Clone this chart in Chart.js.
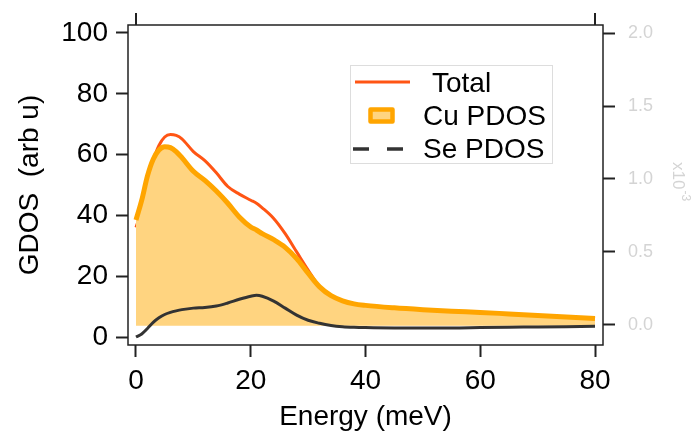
<!DOCTYPE html>
<html>
<head>
<meta charset="utf-8">
<script src="https://cdn.jsdelivr.net/npm/chart.js@4/dist/chart.umd.min.js"></script>
<style>
  html, body { margin: 0; padding: 0; background: #fff; }
  #wrap { width: 695px; height: 432px; }
</style>
</head>
<body>
<div id="wrap"><canvas id="c" width="695" height="432"></canvas></div>
<script>
const FONT = "'Liberation Sans', Arial, Helvetica, sans-serif";

// data
const energy = [0, 1, 2, 3, 4, 5, 6, 7, 8, 10, 12, 14, 16, 18, 20, 21, 22, 24, 26, 28, 30, 32, 34, 36, 38, 40, 45, 50, 55, 60, 65, 70, 75, 80];
const total  = [36, 42, 51, 58, 63, 65.8, 66.6, 66.3, 65.2, 61, 58, 54, 49.5, 47, 45, 44, 42.5, 39, 34, 28, 22, 16.5, 13.6, 11.9, 10.9, 10.4, 9.6, 9.0, 8.5, 8.1, 7.6, 7.1, 6.6, 6.1];
const cuPdos = [38.5, 45, 53, 58.5, 61.5, 62.6, 62.3, 61, 59, 54.5, 51.5, 48, 44, 39.5, 36.2, 35.2, 34, 32, 29.5, 25.8, 21, 16.5, 13.6, 11.9, 10.9, 10.4, 9.6, 9.0, 8.5, 8.1, 7.6, 7.1, 6.6, 6.1];
const sePdos = [0, 1, 2.8, 4.8, 6.3, 7.4, 8.1, 8.6, 9.0, 9.5, 9.7, 10.2, 11.2, 12.4, 13.4, 13.7, 13.4, 11.8, 9.5, 7.2, 5.5, 4.5, 3.8, 3.4, 3.2, 3.1, 3.0, 3.0, 3.0, 3.1, 3.2, 3.3, 3.4, 3.5];
const cuFloor = 3.7;

const xTicks     = [0, 20, 40, 60, 80];
const yTicks     = [0, 20, 40, 60, 80, 100];
const rightTicks = [0, 0.5, 1.0, 1.5, 2.0];
const labels     = ['Total', 'Cu PDOS', 'Se PDOS'];

const RED    = '#ff5514';
const ORANGE = '#ffa500';
const FILL   = '#ffd480';
const DARK   = '#333333';
const FAINT  = '#d4d4d4';

const pts = (ys) => energy.map((x, i) => ({ x, y: ys[i] }));
const fixTicks = (vals) => (scale) => { scale.ticks = vals.map((v) => ({ value: v })); };

const decor = {
  id: 'decor',
  afterDraw(chart) {
    const { ctx, chartArea: a, scales } = chart;
    ctx.save();
    // frame
    ctx.strokeStyle = '#222';
    ctx.lineWidth = 1.5;
    ctx.strokeRect(a.left, a.top, a.right - a.left, a.bottom - a.top);
    // top ticks at the ends only
    ctx.lineWidth = 2;
    [0, 80].forEach((v) => {
      const x = scales.x.getPixelForValue(v);
      ctx.beginPath(); ctx.moveTo(x, a.top - 12); ctx.lineTo(x, a.top); ctx.stroke();
    });

    // axis titles
    ctx.fillStyle = '#000';
    ctx.font = `28px ${FONT}`;
    ctx.textAlign = 'center';
    ctx.textBaseline = 'alphabetic';
    ctx.fillText('Energy (meV)', (a.left + a.right) / 2, 425);
    ctx.save();
    ctx.translate(38, (a.top + a.bottom) / 2);
    ctx.rotate(-Math.PI / 2);
    ctx.fillText('GDOS  (arb u)', 0, 0);
    ctx.restore();

    // right title
    ctx.save();
    ctx.fillStyle = FAINT;
    ctx.translate(673, 162);
    ctx.rotate(Math.PI / 2);
    ctx.textAlign = 'left';
    ctx.font = `17px ${FONT}`;
    ctx.fillText('x10', 0, 0);
    const w = ctx.measureText('x10').width;
    ctx.font = `12px ${FONT}`;
    ctx.fillText('-3', w + 1, -9);
    ctx.restore();

    // legend
    ctx.fillStyle = '#fff';
    ctx.fillRect(350, 65, 202, 98);
    ctx.strokeStyle = '#dddddd';
    ctx.lineWidth = 1;
    ctx.strokeRect(350.5, 65.5, 202, 98);

    ctx.strokeStyle = RED;
    ctx.lineWidth = 3;
    ctx.beginPath(); ctx.moveTo(355, 82); ctx.lineTo(410, 82); ctx.stroke();

    ctx.lineJoin = 'round';
    ctx.fillStyle = FILL;
    ctx.fillRect(370, 109, 23, 13);
    ctx.strokeStyle = ORANGE;
    ctx.lineWidth = 4.5;
    ctx.strokeRect(370.5, 109.5, 22, 12);

    ctx.strokeStyle = DARK;
    ctx.lineWidth = 3.5;
    ctx.setLineDash([16, 18]);
    ctx.beginPath(); ctx.moveTo(353, 149); ctx.lineTo(405, 149); ctx.stroke();
    ctx.setLineDash([]);

    ctx.fillStyle = '#000';
    ctx.font = `28px ${FONT}`;
    ctx.textAlign = 'left';
    ctx.fillText(labels[0], 432, 92);
    ctx.fillText(labels[1], 423, 125);
    ctx.fillText(labels[2], 423, 158);
    ctx.restore();
  },
};

const tickGrid = { drawOnChartArea: false, drawTicks: true, tickLength: 12, tickWidth: 2, tickColor: '#222' };

new Chart(document.getElementById('c'), {
  type: 'line',
  data: {
    datasets: [
      {
        label: labels[0], data: pts(total), order: 3,
        borderColor: RED, borderWidth: 3, fill: false,
        pointRadius: 0, cubicInterpolationMode: 'monotone',
      },
      {
        label: labels[1], data: pts(cuPdos), order: 2,
        borderColor: ORANGE, borderWidth: 5, backgroundColor: FILL,
        fill: { value: cuFloor },
        pointRadius: 0, cubicInterpolationMode: 'monotone',
      },
      {
        label: labels[2], data: pts(sePdos), order: 1,
        borderColor: DARK, borderWidth: 3, fill: false,
        pointRadius: 0, cubicInterpolationMode: 'monotone',
      },
    ],
  },
  plugins: [decor],
  options: {
    responsive: false,
    animation: false,
    devicePixelRatio: 1,
    layout: { padding: { top: 25, left: 0, right: 0, bottom: 0 } },
    plugins: { legend: { display: false }, tooltip: { enabled: false } },
    scales: {
      x: {
        type: 'linear', position: 'bottom',
        min: -1.394, max: 81.394,
        afterBuildTicks: fixTicks(xTicks),
        afterFit: (s) => { s.height = 87; },
        ticks: { autoSkip: false, maxRotation: 0, padding: 7, color: '#000', font: { family: FONT, size: 28 } },
        grid: tickGrid,
        border: { display: false },
      },
      y: {
        type: 'linear', position: 'left',
        min: -2.63, max: 102.63,
        afterBuildTicks: fixTicks(yTicks),
        afterFit: (s) => { s.width = 128; },
        ticks: { autoSkip: false, padding: 8, color: '#000', font: { family: FONT, size: 28 } },
        grid: tickGrid,
        border: { display: false },
      },
      y2: {
        type: 'linear', position: 'right',
        min: -0.137, max: 2.0548,
        afterBuildTicks: fixTicks(rightTicks),
        afterFit: (s) => { s.width = 92; },
        ticks: { autoSkip: false, padding: 13, color: FAINT, font: { family: FONT, size: 18 },
                 callback: (v) => Number(v).toFixed(1) },
        grid: tickGrid,
        border: { display: false },
      },
    },
  },
});
</script>
</body>
</html>
